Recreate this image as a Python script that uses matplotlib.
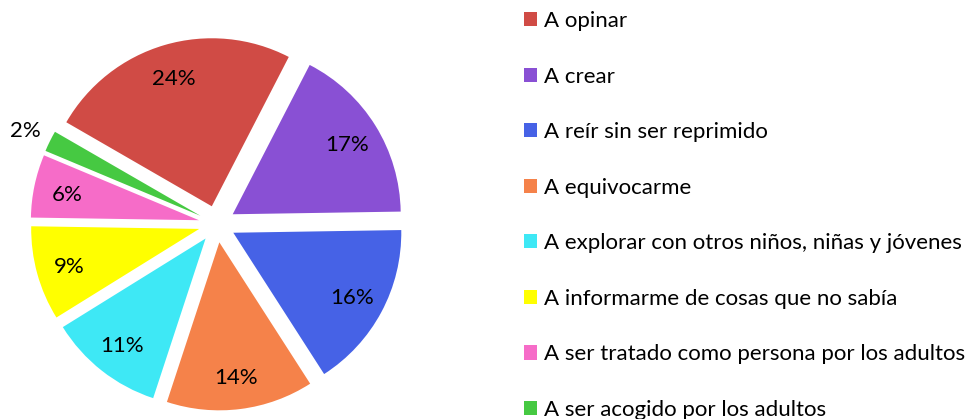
import matplotlib
matplotlib.use("Agg")
import matplotlib.pyplot as plt
import numpy as np

categories = ["A opinar", "A crear", "A reír sin ser reprimido", "A equivocarme",
              "A explorar con otros niños, niñas y jóvenes",
              "A informarme de cosas que no sabía",
              "A ser tratado como persona por los adultos",
              "A ser acogido por los adultos"]
values = [24, 17, 16, 14, 11, 9, 6, 2]
colors = ["#D04B45", "#8950D4", "#4662E6", "#F5824A", "#3EE8F5", "#FFFF00", "#F66CC8", "#46C942"]

plt.rcParams['font.family'] = ['Lato', 'DejaVu Sans']

W, H = 973, 419
fig = plt.figure(figsize=(W / 100, H / 100), dpi=100)
ax = fig.add_axes([0, 0, 1, 1])
R = 168.0
cx, cy = 217.0, 224.0

wedges, texts, autotexts = ax.pie(values, colors=colors, startangle=150, counterclock=False,
                                  explode=[0.11] * len(values), autopct='%1.0f%%',
                                  pctdistance=0.8, radius=1.0,
                                  textprops=dict(fontsize=16, color='black', va='center_baseline'),
                                  wedgeprops=dict(linewidth=0))
ax.set_xlim(-cx / R, (W - cx) / R)
ax.set_ylim(-(H - cy) / R, cy / R)
ax.set_aspect('equal')
ax.axis('off')

# move smallest label outside
w = wedges[-1]
thm = np.deg2rad((w.theta1 + w.theta2) / 2)
autotexts[-1].set_position((1.27 * np.cos(thm), 1.27 * np.sin(thm)))

leg = fig.legend(wedges, categories, loc='upper left', bbox_to_anchor=(524 / W, 1 - 11 / H),
                 frameon=False, fontsize=16, handlelength=0.6, handleheight=0.6,
                 handletextpad=0.3, labelspacing=1.6, borderpad=0, borderaxespad=0)

fig.savefig("out.png", dpi=100)
